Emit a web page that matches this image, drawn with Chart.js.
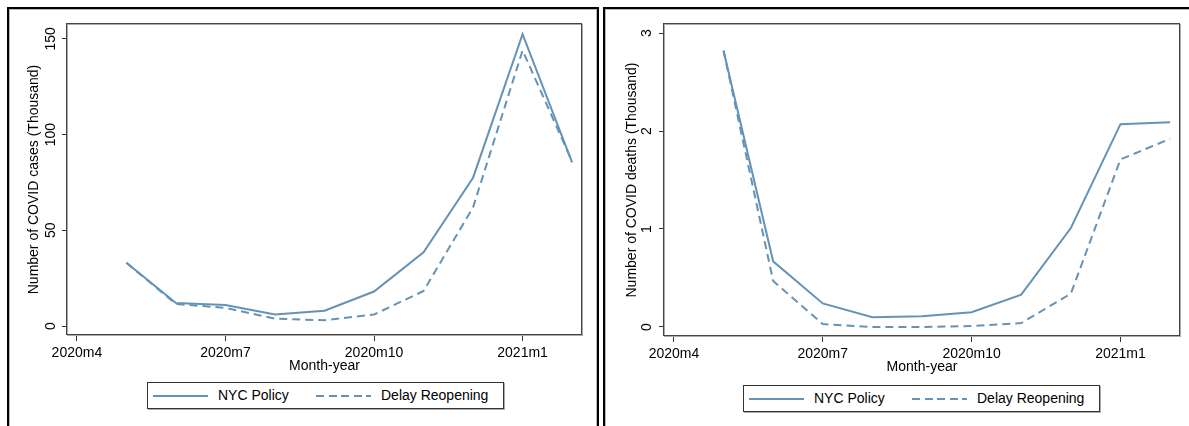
<!DOCTYPE html>
<html>
<head>
<meta charset="utf-8">
<script src="https://cdn.jsdelivr.net/npm/chart.js@4.4.1/dist/chart.umd.min.js"></script>
<style>
  body { margin: 0; background: #fff; width: 1189px; height: 426px; overflow: hidden; position: relative;
         font-family: "Liberation Sans", Arial, sans-serif; }
  .panel { position: absolute; top: 7px; height: 440px; border: 2px solid #000; box-sizing: border-box;
           box-shadow: inset 1px 1px 0 #bbb, inset -1px 0 0 #bbb; }
  .panel canvas { position: absolute; left: 0; top: 0; }
  .legend { position: absolute; width: 357px; height: 27px; border: 1px solid #333; box-sizing: border-box;
            box-shadow: 1px 1px 0 #aaa; font-size: 14px; color: #000; }
  .legend .swatch { position: absolute; top: 12px; width: 55px; height: 0; border-top: 2px solid #6593b6; }
  .legend .swatch.dash { border-top: none; height: 2px;
            background: repeating-linear-gradient(90deg, #6593b6 0 8px, transparent 8px 12.5px); }
  .legend .txt { position: absolute; top: 4px; white-space: nowrap; }
</style>
</head>
<body>
<div class="panel" id="panelL" style="left:7px;width:592px;">
  <canvas id="casesChart" width="588" height="371"></canvas>
  <div class="legend" id="legendL" style="left:138px;top:373px;"></div>
</div>
<div class="panel" id="panelR" style="left:603px;width:594px;">
  <canvas id="deathsChart" width="590" height="372"></canvas>
  <div class="legend" id="legendR" style="left:138px;top:376px;"></div>
</div>
<script>
// months shown on x axis
const months = ['2020m5', '2020m6', '2020m7', '2020m8', '2020m9', '2020m10', '2020m11', '2020m12', '2021m1', '2021m2'];
const xTickLabels = ['2020m4', '2020m7', '2020m10', '2021m1'];

// COVID cases (thousand)
const casesNyc   = [33, 12, 11, 6, 8, 18, 38.5, 77.5, 152.5, 85.5];
const casesDelay = [33, 11.5, 9.5, 3.8, 3, 6, 18.3, 62, 144, 86];
const casesTicks = [0, 50, 100, 150];

// COVID deaths (thousand)
const deathsNyc   = [2.82, 0.67, 0.24, 0.10, 0.11, 0.15, 0.33, 1.01, 2.07, 2.09];
const deathsDelay = [2.82, 0.47, 0.03, 0.0, 0.0, 0.01, 0.04, 0.34, 1.71, 1.92];
const deathsTicks = [0, 1, 2, 3];

const seriesNames = ['NYC Policy', 'Delay Reopening'];
const LINE = '#6593b6';
const FONT = '"Liberation Sans", Arial, sans-serif';

// "2020m7" -> 7, "2021m1" -> 13
function monthIndex(label) {
    const [y, m] = label.split('m').map(Number);
    return (y - 2020) * 12 + m;
}

// plot region frame + vertical y tick labels (Stata style)
const stataFrame = {
    id: 'stataFrame',
    afterDraw(chart, args, opts) {
        const { ctx, chartArea: a, scales: { y } } = chart;
        ctx.save();
        ctx.strokeStyle = '#aaa';
        ctx.lineWidth = 1;
        ctx.strokeRect(a.left + 0.5, a.top + 0.5, a.right - a.left, a.bottom - a.top);
        ctx.strokeStyle = '#444';
        ctx.strokeRect(a.left - 0.5, a.top - 0.5, a.right - a.left, a.bottom - a.top);

        ctx.fillStyle = '#000';
        ctx.font = '14px ' + FONT;
        ctx.textAlign = 'center';
        ctx.textBaseline = 'alphabetic';
        y.ticks.forEach(t => {
            ctx.save();
            ctx.translate(a.left - opts.labelGap, y.getPixelForValue(t.value));
            ctx.rotate(-Math.PI / 2);
            ctx.fillText(String(t.value), 0, 0);
            ctx.restore();
        });
        ctx.restore();
    }
};

function makeChart(id, nyc, delay, yTicks, yMin, yMax, yTitle, p) {
    const toPts = arr => months.map((m, i) => ({ x: monthIndex(m), y: arr[i] }));
    return new Chart(document.getElementById(id), {
        type: 'line',
        data: {
            datasets: [
                { label: seriesNames[0], data: toPts(nyc), borderColor: LINE, borderWidth: 2, pointRadius: 0, tension: 0 },
                { label: seriesNames[1], data: toPts(delay), borderColor: LINE, borderWidth: 2, borderDash: [8, 5], pointRadius: 0, tension: 0 }
            ]
        },
        options: {
            responsive: false,
            animation: false,
            devicePixelRatio: 1,
            layout: { padding: { left: 0, top: 15, right: 15, bottom: 0 } },
            plugins: {
                legend: { display: false },
                tooltip: { enabled: false },
                stataFrame: { labelGap: p.labelGap }
            },
            scales: {
                x: {
                    type: 'linear', min: 3.8, max: 14.2,
                    afterBuildTicks: s => { s.ticks = xTickLabels.map(l => ({ value: monthIndex(l) })); },
                    afterFit: s => { s.height = 45; },
                    border: { display: false },
                    grid: { drawOnChartArea: false, drawTicks: true, tickLength: 6, color: '#333', lineWidth: 1 },
                    ticks: {
                        autoSkip: false, maxRotation: 0, padding: 4, color: '#000', font: { family: FONT, size: 14 },
                        callback: v => xTickLabels.find(l => monthIndex(l) === v) || ''
                    },
                    title: { display: true, text: 'Month-year', color: '#000', font: { family: FONT, size: 14 },
                             padding: { top: 0, bottom: 5 } }
                },
                y: {
                    min: yMin, max: yMax,
                    afterBuildTicks: s => { s.ticks = yTicks.map(v => ({ value: v })); },
                    afterFit: s => { s.width = p.yWidth; },
                    border: { display: false },
                    grid: { drawOnChartArea: false, drawTicks: true, tickLength: 5, color: '#333', lineWidth: 1 },
                    ticks: { display: false },
                    title: { display: true, text: yTitle, color: '#000', font: { family: FONT, size: 14 },
                             padding: { top: p.titlePad, bottom: 0 } }
                }
            }
        },
        plugins: [stataFrame]
    });
}

function buildLegend(id) {
    const el = document.getElementById(id);
    el.innerHTML =
        '<div class="swatch" style="left:5px"></div>' +
        '<div class="txt" style="left:70px">' + seriesNames[0] + '</div>' +
        '<div class="swatch dash" style="left:168px"></div>' +
        '<div class="txt" style="left:233px">' + seriesNames[1] + '</div>';
}

makeChart('casesChart', casesNyc, casesDelay, casesTicks, -4.7, 157.8,
    'Number of COVID cases (Thousand)', { yWidth: 58, labelGap: 12, titlePad: 17 });
makeChart('deathsChart', deathsNyc, deathsDelay, deathsTicks, -0.092, 3.092,
    'Number of COVID deaths (Thousand)', { yWidth: 59, labelGap: 13, titlePad: 19 });
buildLegend('legendL');
buildLegend('legendR');
</script>
</body>
</html>
